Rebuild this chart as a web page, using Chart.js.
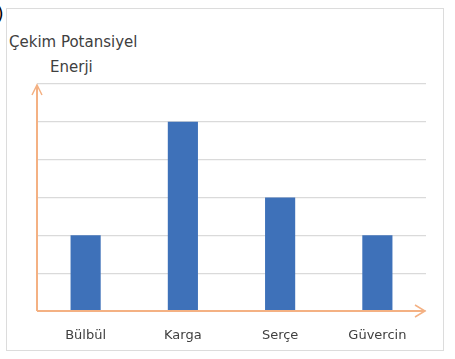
<!DOCTYPE html>
<html>
<head>
<meta charset="utf-8">
<script src="https://cdn.jsdelivr.net/npm/chart.js@4"></script>
<style>
  body { margin: 0; background: #fff; }
  #wrap { position: relative; width: 455px; height: 359px; }
  #frame {
    position: absolute; left: 6px; top: 8px; width: 436px; height: 341px;
    border: 1.5px solid #dcdcdc;
  }
  .lbl {
    position: absolute; font-family: "Comic Sans MS", "DejaVu Sans", sans-serif;
    color: #404040; font-size: 15px; white-space: nowrap;
  }
  #paren { left: -3px; top: 4px; color: #000; font-size: 17px; }
  #t1 { left: 9px; top: 33px; }
  #t2 { left: 50px; top: 58px; }
</style>
</head>
<body>
<div id="wrap">
  <div id="frame"></div>
  <div class="lbl" id="paren">)</div>
  <div class="lbl" id="t1">Çekim Potansiyel</div>
  <div class="lbl" id="t2">Enerji</div>
  <canvas id="chart" width="455" height="359" style="position:absolute;left:0;top:0;"></canvas>
</div>
<script>
const categories = ["Bülbül", "Karga", "Serçe", "Güvercin"];
const values = [2, 5, 3, 2];
const yMax = 6;

const axisColor = "#f4b183";

// eksenler + oklar
const arrowAxes = {
  id: "arrowAxes",
  afterDatasetsDraw(chart) {
    const { ctx, chartArea } = chart;
    const x0 = chartArea.left, y0 = chartArea.bottom;
    const xEnd = chartArea.right - 1, yEnd = chartArea.top + 1;
    ctx.save();
    ctx.strokeStyle = axisColor;
    ctx.lineWidth = 2;
    ctx.beginPath();
    ctx.moveTo(x0, y0);
    ctx.lineTo(x0, yEnd);
    ctx.moveTo(x0, y0);
    ctx.lineTo(xEnd, y0);
    ctx.stroke();
    ctx.lineWidth = 1.5;
    ctx.beginPath();
    ctx.moveTo(x0 - 5, yEnd + 10);
    ctx.lineTo(x0, yEnd);
    ctx.lineTo(x0 + 5, yEnd + 10);
    ctx.moveTo(xEnd - 10, y0 - 6);
    ctx.lineTo(xEnd, y0);
    ctx.lineTo(xEnd - 10, y0 + 6);
    ctx.stroke();
    ctx.restore();
  },
};

const ctx = document.getElementById("chart").getContext("2d");
const chart = new Chart(ctx, {
  type: "bar",
  data: {
    labels: categories,
    datasets: [
      {
        data: values,
        backgroundColor: "#3e71b9",
        barPercentage: 0.31,
        categoryPercentage: 1,
      },
    ],
  },
  options: {
    responsive: false,
    animation: false,
    layout: { padding: { left: 37, right: 29, top: 84, bottom: 8 } },
    scales: {
      y: {
        min: 0,
        max: yMax,
        ticks: { display: false, stepSize: 1 },
        grid: { color: "#dadada", lineWidth: 1.2, drawTicks: false },
        border: { display: false },
        afterFit: (s) => { s.width = 0; },
      },
      x: {
        grid: { display: false },
        border: { display: false },
        ticks: {
          padding: 9,
          color: "#404040",
          font: { family: "'Comic Sans MS', 'DejaVu Sans', sans-serif", size: 13 },
        },
        afterFit: (s) => { s.height = 40; },
      },
    },
    plugins: {
      legend: { display: false },
      tooltip: { enabled: false },
    },
  },
  plugins: [arrowAxes],
});
</script>
</body>
</html>
